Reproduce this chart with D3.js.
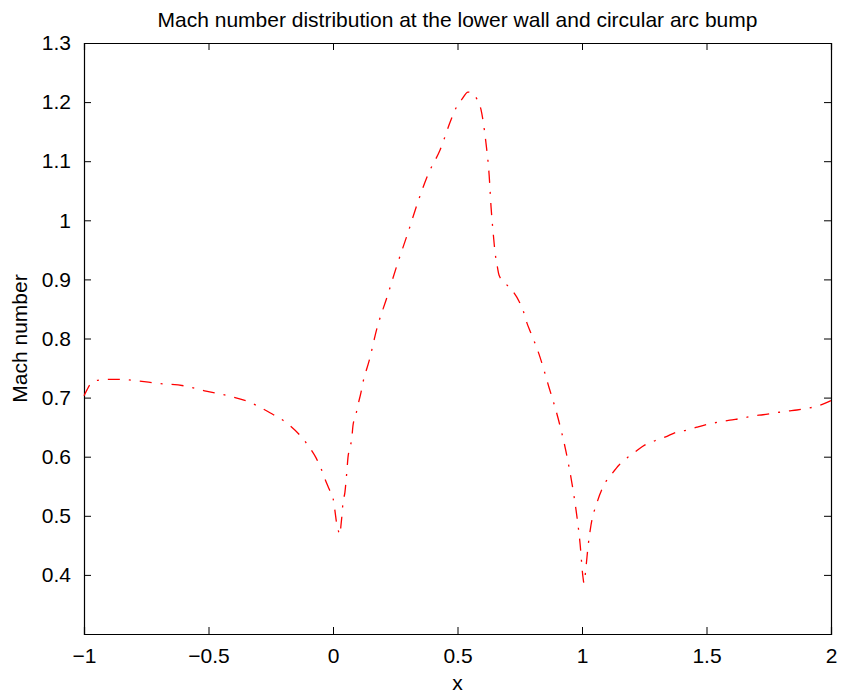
<!DOCTYPE html>
<html>
<head>
<meta charset="utf-8">
<script src="https://cdn.jsdelivr.net/npm/d3@7"></script>
<style>
  body { margin: 0; background: #fff; }
  text { font-family: "Liberation Sans", Arial, Helvetica, sans-serif; fill: #000; }
</style>
</head>
<body>
<script>
// x positions along the lower wall / bump
var xs = [-1, -0.988, -0.976, -0.95, -0.9, -0.85, -0.78, -0.7, -0.6, -0.51,
  -0.42, -0.34, -0.26, -0.18, -0.12, -0.09, -0.068, -0.05, -0.032, -0.015,
  0.0, 0.008, 0.014, 0.022, 0.028, 0.032, 0.036, 0.04, 0.048, 0.052,
  0.056, 0.06, 0.068, 0.076, 0.08, 0.092, 0.1, 0.112, 0.12, 0.145,
  0.177, 0.217, 0.257, 0.301, 0.341, 0.382, 0.43, 0.474, 0.494, 0.518,
  0.542, 0.562, 0.578, 0.594, 0.602, 0.614, 0.627, 0.635, 0.643, 0.651,
  0.659, 0.667, 0.691, 0.711, 0.727, 0.747, 0.763, 0.779, 0.795, 0.827,
  0.867, 0.904, 0.936, 0.96, 0.976, 0.992, 1.004, 1.008, 1.016, 1.024,
  1.036, 1.06, 1.092, 1.12, 1.149, 1.181, 1.213, 1.253, 1.293, 1.333,
  1.382, 1.422, 1.462, 1.506, 1.554, 1.594, 1.643, 1.687, 1.727, 1.775,
  1.819, 1.863, 1.908, 1.948, 2.0];

// Mach number
var mach = [0.703, 0.713, 0.722, 0.729, 0.731, 0.731, 0.728, 0.724, 0.72, 0.711,
  0.703, 0.693, 0.676, 0.655, 0.63, 0.613, 0.598, 0.582, 0.562, 0.545,
  0.53, 0.508, 0.489, 0.474, 0.468, 0.484, 0.501, 0.522, 0.54, 0.557,
  0.577, 0.598, 0.615, 0.633, 0.652, 0.671, 0.687, 0.708, 0.725, 0.762,
  0.818, 0.87, 0.924, 0.979, 1.031, 1.078, 1.119, 1.17, 1.19, 1.205,
  1.217, 1.215, 1.205, 1.188, 1.17, 1.132, 1.077, 1.021, 0.98, 0.945,
  0.924, 0.907, 0.894, 0.885, 0.877, 0.863, 0.848, 0.826, 0.809, 0.774,
  0.718, 0.665, 0.608, 0.554, 0.51, 0.454, 0.396, 0.386, 0.413, 0.447,
  0.484, 0.522, 0.555, 0.571, 0.586, 0.598, 0.608, 0.62, 0.627, 0.633,
  0.642, 0.645, 0.65, 0.655, 0.659, 0.662, 0.665, 0.669, 0.671, 0.674,
  0.677, 0.679, 0.682, 0.686, 0.695];

var xTicks = [-1, -0.5, 0, 0.5, 1, 1.5, 2];
var yTicks = [0.4, 0.5, 0.6, 0.7, 0.8, 0.9, 1, 1.1, 1.2, 1.3];

var W = 843, H = 693;
var margin = { top: 43, right: 12, bottom: 59, left: 84 },
  width = W - margin.left - margin.right,
  height = H - margin.top - margin.bottom;

var data = xs.map(function (d, i) { return { x: d, m: mach[i] }; });

var x = d3.scaleLinear().domain([-1, 2]).range([0, width]);
var y = d3.scaleLinear().domain([0.3, 1.3]).range([height, 0]);

var svg = d3.select("body").append("svg")
  .attr("width", W)
  .attr("height", H);

var g = svg.append("g")
  .attr("transform", "translate(" + margin.left + "," + margin.top + ")");

// minus sign like MATLAB
var fmt = function (d) { return String(d).replace("-", "\u2212"); };

// axes with inward ticks, box on all sides
g.append("g")
  .attr("transform", "translate(0," + height + ")")
  .call(d3.axisBottom(x).tickValues(xTicks).tickSize(-7).tickPadding(14).tickFormat(fmt));
g.append("g")
  .call(d3.axisTop(x).tickValues(xTicks).tickSize(-7).tickFormat(""));
g.append("g")
  .call(d3.axisLeft(y).tickValues(yTicks).tickSize(-7).tickPadding(13).tickFormat(fmt));
g.append("g")
  .attr("transform", "translate(" + width + ",0)")
  .call(d3.axisRight(y).tickValues(yTicks).tickSize(-7).tickFormat(""));

g.selectAll(".domain").attr("stroke", "#000").attr("stroke-width", 1.2);
g.selectAll(".tick line").attr("stroke", "#000").attr("stroke-width", 1);
g.selectAll(".tick text").style("font-size", "21px").attr("fill", "#000");

// the curve
var line = d3.line()
  .x(function (d) { return x(d.x); })
  .y(function (d) { return y(d.m); })
  .curve(d3.curveMonotoneX);

g.append("path")
  .datum(data)
  .attr("fill", "none")
  .attr("stroke", "#ff0000")
  .attr("stroke-width", 1.3)
  .attr("stroke-dasharray", "12,9,2,9")
  .attr("d", line);

// labels
svg.append("text")
  .attr("x", margin.left + width / 2)
  .attr("y", 27)
  .attr("text-anchor", "middle")
  .style("font-size", "21px")
  .text("Mach number distribution at the lower wall and circular arc bump");

svg.append("text")
  .attr("x", margin.left + width / 2)
  .attr("y", 690)
  .attr("text-anchor", "middle")
  .style("font-size", "21px")
  .text("x");

svg.append("text")
  .attr("transform", "translate(27," + (margin.top + height / 2) + ") rotate(-90)")
  .attr("text-anchor", "middle")
  .style("font-size", "21px")
  .text("Mach number");
</script>
</body>
</html>
